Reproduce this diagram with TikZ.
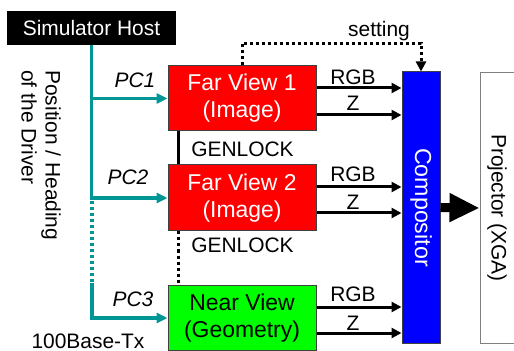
\documentclass[tikz,border=0pt]{standalone}
\usepackage{fontspec}
\setmainfont{Liberation Sans}
\usetikzlibrary{arrows.meta}
\definecolor{netteal}{RGB}{0,150,150}
\definecolor{boxline}{RGB}{64,64,64}

\tikzset{
	viewbox/.style={draw=boxline, line width=0.25mm, minimum width=37mm, inner sep=0pt, align=center, font=\fontsize{16.3}{19.3}\selectfont},
	net/.style={netteal, line width=0.8mm, -{Triangle[length=2.75mm,width=2.5mm]}},
	sig/.style={line width=0.75mm, -{Triangle[length=2.5mm,width=2.5mm]}},
	dots/.style={line width=0.75mm, dash pattern=on 0.75mm off 0.75mm},
	pclabel/.style={font=\fontsize{14.9}{17}\selectfont\itshape},
}

\begin{document}
\begin{tikzpicture}[x=0.25mm, y=-0.25mm, font=\fontsize{14.9}{17}\selectfont]
	\useasboundingbox (0,0) rectangle (514,351);
	% Boxes:
	\node[fill=black, text=white, minimum width=42.25mm, minimum height=8.5mm, inner sep=0pt] (host) at (91.5,28){Simulator Host};
	\node[viewbox, fill=red, text=white, minimum height=16.25mm] (fv1) at (242,98.5){Far View 1\\(Image)};
	\node[viewbox, fill=red, text=white, minimum height=16.5mm] (fv2) at (242,198){Far View 2\\(Image)};
	\node[viewbox, fill=green, minimum height=16mm] (nv) at (242,318){Near View\\(Geometry)};
	\node[draw=boxline, line width=0.25mm, fill=blue, minimum width=9.5mm, minimum height=67.75mm, inner sep=0pt] (comp) at (421,207.5){};
	\node[rotate=-90, text=white, font=\fontsize{16.5}{19}\selectfont] (comptext) at (comp.center){Compositor};
	\node[draw=gray, line width=0.25mm, minimum width=8.5mm, minimum height=67.5mm, inner sep=0pt] (proj) at (497,208){};
	\node[rotate=-90] (projtext) at (proj.center){Projector (XGA)};
	% Network from the host:
	\coordinate (bus) at (92,283);
	\draw[net] (host.south) |- (fv1.west);
	\draw[net] (host.south) |- (fv2.west);
	\draw[netteal, dots, line width=0.8mm] (92,201) -- (bus);
	\draw[net] (bus) |- (nv.west);
	\node[pclabel] (pc1) at (135,80){PC1};
	\node[pclabel] (pc2) at (128,177.5){PC2};
	\node[pclabel] (pc3) at (133,299.5){PC3};
	\node[inner sep=0pt] (eth) at (88,341){100Base-Tx};
	\node[rotate=-90, anchor=north west, align=left, inner sep=0pt] (pos) at (61,70){Position / Heading\\of the Driver};
	% Genlock:
	\draw[line width=0.75mm] (fv1.south -| 178,0) -- (fv2.north -| 178,0);
	\draw[dots] (fv2.south -| 178,0) -- (nv.north -| 178,0);
	\node (lock1) at (242.5,149.5){GENLOCK};
	\node (lock2) at (242.5,245.5){GENLOCK};
	% Setting:
	\draw[dots, -{Triangle[length=2.5mm,width=2.5mm]}] (fv1.north) -- ++(0,-22) -| (comp.north);
	\node (set) at (379,31){setting};
	% RGB and Z:
	\draw[sig] (fv1.east |- 0,88) -- (comp.west |- 0,88);
	\draw[sig] (fv1.east |- 0,115) -- (comp.west |- 0,115);
	\draw[sig] (fv2.east |- 0,187) -- (comp.west |- 0,187);
	\draw[sig] (fv2.east |- 0,213) -- (comp.west |- 0,213);
	\draw[sig] (nv.east |- 0,307) -- (comp.west |- 0,307);
	\draw[sig] (nv.east |- 0,333) -- (comp.west |- 0,333);
	\node (rgb1) at (353,77){RGB};
	\node (z1) at (353,103.5){Z};
	\node (rgb2) at (353,174){RGB};
	\node (z2) at (353,202){Z};
	\node (rgb3) at (353,294){RGB};
	\node (z3) at (353,323){Z};
	% Output:
	\draw[line width=2.25mm, -{Triangle[length=7.5mm,width=6.75mm]}] (comp.east) -- (proj.west);
\end{tikzpicture}
\end{document}
